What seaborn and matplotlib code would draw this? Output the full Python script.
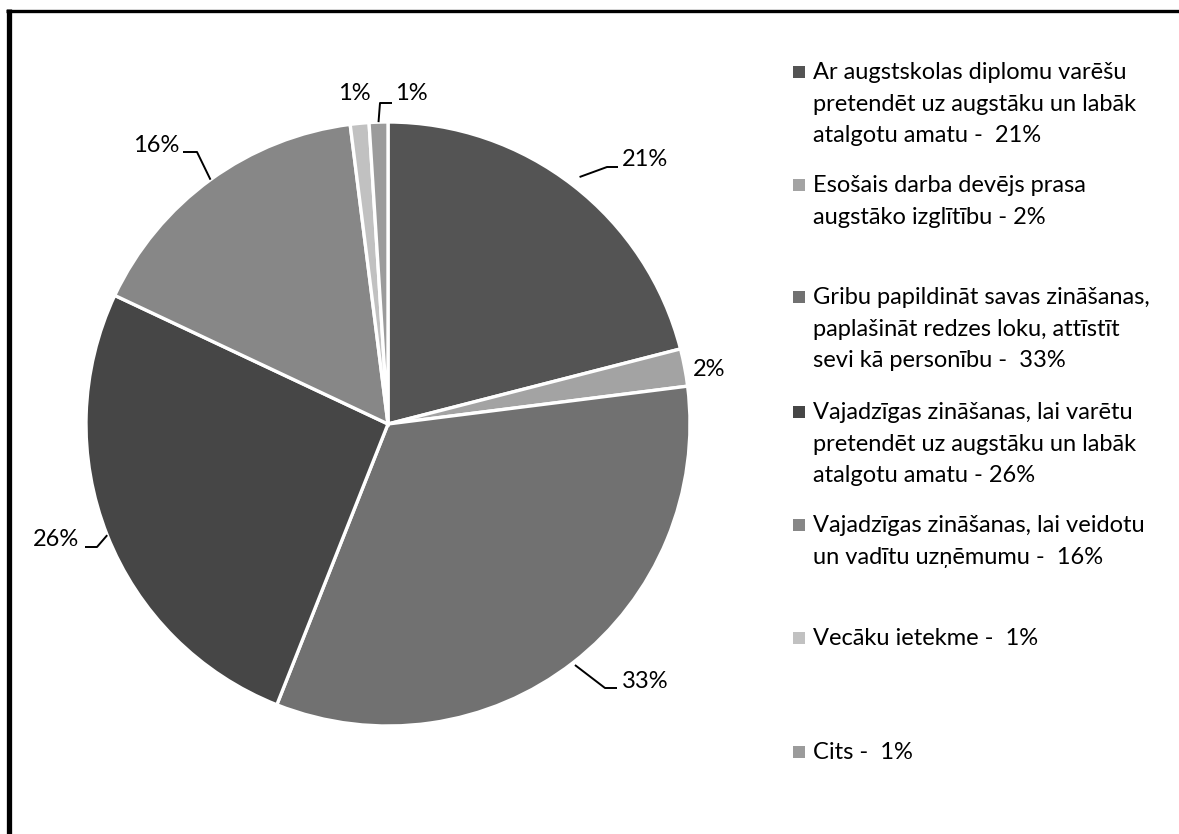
"""
Pie chart - reasons for studying (LV survey)
"""
import numpy as np
import matplotlib.pyplot as plt
import seaborn as sns
from matplotlib.lines import Line2D
from matplotlib.patches import Rectangle

# DATA
categories = [
    'Ar augstskolas diplomu varēšu\npretendēt uz augstāku un labāk\natalgotu amatu -  21%',
    'Esošais darba devējs prasa\naugstāko izglītību - 2%',
    'Gribu papildināt savas zināšanas,\npaplašināt redzes loku, attīstīt\nsevi kā personību -  33%',
    'Vajadzīgas zināšanas, lai varētu\npretendēt uz augstāku un labāk\natalgotu amatu - 26%',
    'Vajadzīgas zināšanas, lai veidotu\nun vadītu uzņēmumu -  16%',
    'Vecāku ietekme -  1%',
    'Cits -  1%',
]
values = [21, 2, 33, 26, 16, 1, 1]
pct_labels = ['21%', '2%', '33%', '26%', '16%', '1%', '1%']
colors = ['#545454', '#a3a3a3', '#717171', '#464646', '#878787', '#c1c1c1', '#9b9b9b']

sns.set_theme(style='white')
plt.rcParams['font.family'] = ['Lato', 'DejaVu Sans']

W, H = 1179, 834
fig = plt.figure(figsize=(W / 100, H / 100), dpi=100)
fig.patch.set_facecolor('white')

# pie geometry in pixels
cx, cy, R = 388, 424, 302
ax = fig.add_axes([(cx - R) / W, (H - cy - R) / H, 2 * R / W, 2 * R / H])

wedges, _ = ax.pie(values, colors=colors, startangle=90, counterclock=False,
                   radius=1, wedgeprops=dict(edgecolor='white', linewidth=2.4))
ax.set_xlim(-1, 1)
ax.set_ylim(-1, 1)
ax.set_aspect('equal')
ax.axis('off')

def px2d(x, y):
    return (x - cx) / R, (cy - y) / R

# label layout in pixels: text anchor, leader start radius, elbow, end
label_style = [
    dict(tx=622, ty=160, ha='left', r0=1.035, elbow=(607, 167), end=(618, 167)),
    dict(tx=693, ty=370, ha='left', r0=None),
    dict(tx=622, ty=682, ha='left', r0=1.01, elbow=(605, 688), end=(617, 688)),
    dict(tx=79, ty=540, ha='right', r0=1.0, elbow=(97, 547), end=(85, 547)),
    dict(tx=179, ty=145, ha='right', r0=1.0, elbow=(197, 152), end=(183, 152)),
    dict(tx=354, ty=94, ha='center', r0=None),
    dict(tx=395, ty=94, ha='left', r0=1.0, elbow=(380, 103), end=(392, 103)),
]

for w, lab, st in zip(wedges, pct_labels, label_style):
    mid = np.deg2rad((w.theta1 + w.theta2) / 2)
    if st['r0'] is not None:
        x0, y0 = st['r0'] * np.cos(mid), st['r0'] * np.sin(mid)
        ex, ey = px2d(*st['elbow'])
        fx, fy = px2d(*st['end'])
        ax.plot([x0, ex, fx], [y0, ey, fy], color='black', lw=1.4, clip_on=False,
                solid_capstyle='butt')
    lx, ly = px2d(st['tx'], st['ty'])
    ax.text(lx, ly, lab, ha=st['ha'], va='center', fontsize=17, color='black',
            clip_on=False)

# legend (manual, uneven spacing as in the original)
legend_y = [72, 185, 297, 412, 525, 638, 752]
for name, col, y in zip(categories, colors, legend_y):
    fig.patches.append(Rectangle((793 / W, 1 - (y + 6) / H), 12 / W, 12 / H,
                                 transform=fig.transFigure, facecolor=col,
                                 edgecolor='none'))
    fig.text(813 / W, 1 - (y - 10) / H, name, ha='left', va='top',
             fontsize=17, color='black', linespacing=1.62)

# frame (left and top edges visible)
fig.lines.append(Line2D([8.5 / W, 8.5 / W], [0, 1 - 9 / H], transform=fig.transFigure,
                        color='black', lw=3.8, solid_capstyle='butt'))
fig.lines.append(Line2D([6 / W, 1], [1 - 10.5 / H, 1 - 10.5 / H], transform=fig.transFigure,
                        color='black', lw=2.4, solid_capstyle='butt'))

plt.savefig('out.png', dpi=100)
plt.close()
